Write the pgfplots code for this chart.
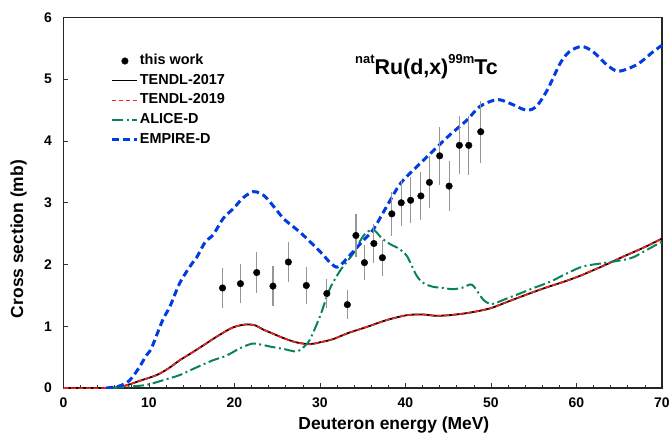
\documentclass[border=0pt]{standalone}
\usepackage{fontspec}
\setmainfont{Liberation Sans}
\usepackage{pgfplots}
\pgfplotsset{compat=1.18}
\usepackage{pgfplotstable}
\definecolor{empire}{RGB}{0,60,225}
\definecolor{alice}{RGB}{10,130,90}
\definecolor{tendlred}{RGB}{255,30,30}
\definecolor{errgray}{RGB}{150,150,150}
\pgfplotsset{
  dotlegend/.style={legend image code/.code={\path[##1] plot[only marks] coordinates {(12.5bp,0bp)};}},
  linelegend/.style={legend image code/.code={\draw[##1] (0bp,0bp) -- (25bp,0bp);}},
}

\pgfplotstableread{
x y e
18.6 1.62 0.32
20.7 1.69 0.32
22.6 1.87 0.33
24.5 1.65 0.33
26.3 2.04 0.32
28.4 1.66 0.30
30.8 1.53 0.24
33.2 1.35 0.24
34.2 2.47 0.35
35.2 2.03 0.28
36.3 2.34 0.31
37.3 2.11 0.29
38.4 2.82 0.36
39.5 3.00 0.37
40.6 3.04 0.37
41.8 3.11 0.39
42.8 3.33 0.42
44.0 3.76 0.47
45.1 3.27 0.40
46.3 3.93 0.47
47.4 3.93 0.48
48.8 4.15 0.50
}\expdata

\pgfplotstableread{
x y
0 0
5.0 0
7.0 0.03
9.0 0.12
10.9 0.21
12.3 0.32
13.6 0.45
15.0 0.57
16.35 0.69
17.9 0.83
19.8 0.98
21.4 1.03
22.5 1.01
23.3 0.95
24.5 0.88
25.7 0.81
27.2 0.74
28.8 0.71
30.0 0.74
31.5 0.79
33.3 0.89
35.5 0.99
37.8 1.10
40.2 1.18
42.1 1.19
43.5 1.17
45.2 1.18
47.5 1.22
49.9 1.29
52.0 1.40
54.1 1.51
56.3 1.62
58.5 1.72
60.3 1.81
62.0 1.91
63.8 2.02
65.5 2.13
67.8 2.27
70 2.42
}\tendl

\pgfplotstableread{
x y
5.8 0
7.5 0.02
9.7 0.05
11.5 0.12
13.6 0.21
15.5 0.33
17.5 0.45
19.0 0.52
20.6 0.64
22.1 0.72
23.2 0.70
24.2 0.67
25.8 0.63
27.3 0.59
28.05 0.66
28.8 0.78
30.0 1.16
31.1 1.59
32.4 1.91
33.9 2.18
35.0 2.45
35.8 2.55
36.4 2.55
37.2 2.43
38.2 2.33
39.3 2.25
40.2 2.13
41.3 1.82
42.1 1.70
43.2 1.64
44.4 1.62
45.6 1.60
46.8 1.63
47.8 1.67
49.1 1.43
50.1 1.36
51.5 1.43
53.0 1.51
55.0 1.62
56.9 1.72
58.8 1.85
60.8 1.97
63.5 2.03
66.3 2.10
68.0 2.22
70 2.37
}\alice

\pgfplotstableread{
x y
5.0 0
6.5 0.03
7.7 0.12
8.7 0.30
9.7 0.53
10.3 0.65
11.6 1.10
12.45 1.32
13.6 1.70
14.9 1.99
15.6 2.12
16.6 2.37
17.5 2.48
18.7 2.75
19.9 2.91
21.0 3.08
22.2 3.18
23.0 3.15
23.8 3.07
25.7 2.75
26.9 2.61
28.0 2.48
30.0 2.21
31.2 2.03
32.1 1.96
33.5 2.15
35.0 2.38
36.2 2.56
37.8 2.94
39.4 3.31
41.3 3.58
43.3 3.85
45.2 4.10
47.2 4.34
48.7 4.56
50.7 4.67
52.2 4.61
54.1 4.50
55.3 4.56
56.6 4.83
58.1 5.26
59.2 5.45
60.6 5.53
61.9 5.45
63.5 5.24
64.9 5.13
67.1 5.24
69.0 5.45
70 5.55
}\empire

\begin{document}
\begin{tikzpicture}
\path[use as bounding box] (-63.5bp,-53bp) rectangle (607.5bp,388bp);
\begin{axis}[
  scale only axis, width=598.5bp, height=370.5bp,
  xmin=0, xmax=70, ymin=0, ymax=6,
  xtick={0,10,...,70}, ytick={0,1,...,6},
  minor x tick num=4,
  tick align=inside, xtick pos=bottom, ytick pos=left,
  major tick length=5bp, minor tick length=3.5bp,
  axis line style={line width=1.3bp, black!85},
  every tick/.style={black!80, line width=0.8bp},
  tick label style={font=\bfseries\fontsize{14}{14}\selectfont},
  /pgf/number format/assume math mode=true,
  yticklabel style={xshift=-8bp},
  xticklabel style={yshift=-6bp},
  xlabel={Deuteron energy (MeV)},
  ylabel={Cross section (mb)},
  label style={font=\bfseries\fontsize{17.5}{17.5}\selectfont},
  xlabel style={at={(axis description cs:0.552,0)}, anchor=base, yshift=-41bp},
  ylabel style={at={(axis description cs:-0.0752,0.402)}, anchor=center},
  legend style={at={(axis description cs:0.0789,0.904)}, anchor=north west,
    draw=none, fill=none, inner sep=0pt, row sep=4.1bp,
    font=\bfseries\fontsize{14.5}{14.5}\selectfont,
    nodes={inner sep=1bp, text height=10.5bp, text depth=3bp}},
  legend cell align=left,
]
\addlegendimage{black, mark=*, mark size=3.3bp, dotlegend}
\addlegendentry{this work}
\addlegendimage{black, line width=1.5bp, linelegend}
\addlegendentry{TENDL-2017}
\addlegendimage{tendlred, line width=1.2bp, dash pattern=on 4bp off 3bp, linelegend}
\addlegendentry{TENDL-2019}
\addlegendimage{alice, line width=2bp, dash pattern=on 11bp off 3.5bp on 2bp off 3.5bp, linelegend}
\addlegendentry{ALICE-D}
\addlegendimage{empire, line width=3bp, dash pattern=on 7bp off 4bp, linelegend}
\addlegendentry{EMPIRE-D}

\addplot[forget plot, black, line width=1.8bp, smooth] table[x=x,y=y]{\tendl};
\addplot[forget plot, tendlred, line width=1.6bp, smooth, dash pattern=on 5bp off 2.5bp] table[x=x,y=y]{\tendl};
\addplot[forget plot, alice, line width=2bp, smooth, dash pattern=on 11bp off 3.5bp on 2bp off 3.5bp] table[x=x,y=y]{\alice};
\addplot[forget plot, empire, line width=3bp, smooth, dash pattern=on 7bp off 4bp] table[x=x,y=y]{\empire};

\addplot[forget plot, draw=none, mark=none,
  error bars/.cd, y dir=both, y explicit,
  error bar style={draw=errgray, line width=1.2bp, solid}, error mark=none]
  table[x=x,y=y,y error=e]{\expdata};
\addplot[forget plot, only marks, mark=*, mark size=3.3bp, black] table[x=x,y=y]{\expdata};

\node[anchor=base west, font=\bfseries\fontsize{21.5}{21.5}\selectfont, inner sep=0pt]
  at (rel axis cs:0.487,0.845)
  {\raisebox{11bp}{\fontsize{13}{13}\selectfont nat}Ru(d,x)\raisebox{11bp}{\fontsize{13}{13}\selectfont 99m}Tc};
\end{axis}
\end{tikzpicture}
\end{document}
